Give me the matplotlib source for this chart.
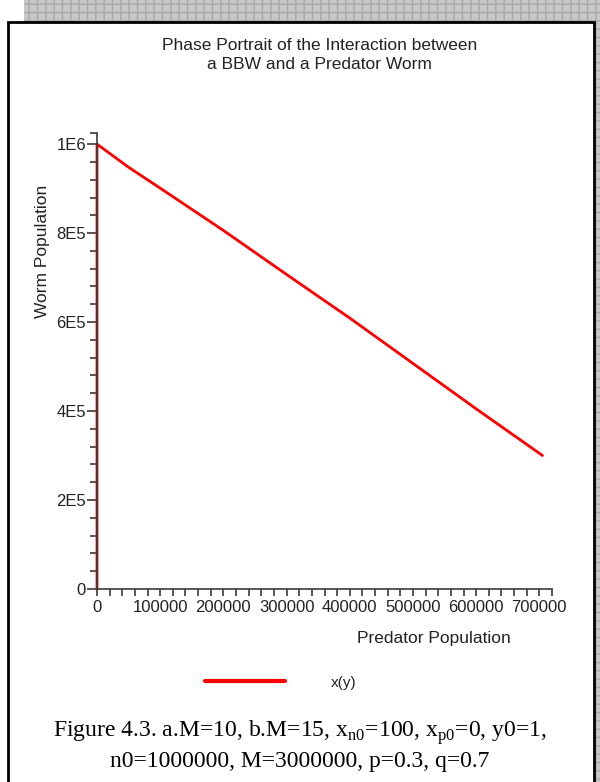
import matplotlib.pyplot as plt
from matplotlib.patches import Rectangle
from matplotlib.ticker import MultipleLocator, FixedLocator

plt.rcParams['font.family'] = ['Liberation Sans', 'DejaVu Sans']
plt.rcParams['mathtext.fontset'] = 'custom'
plt.rcParams['mathtext.rm'] = 'Liberation Serif'

# predator population (x axis) vs worm population (y axis)
predator = [0, 0, 50000, 100000, 200000, 300000, 400000, 500000, 600000, 705000]
worm = [0, 1000000, 948000, 901000, 806000, 707000, 609000, 507000, 405000, 300000]

x_major = [0, 100000, 200000, 300000, 400000, 500000, 600000, 700000]
y_major = [0, 200000, 400000, 600000, 800000, 1000000]
y_labels = ['0', '2E5', '4E5', '6E5', '8E5', '1E6']

fig = plt.figure(figsize=(6, 7.82), dpi=100)
fig.patch.set_facecolor('white')

# checkered backdrop (top and right strips) and white sheet with a black frame
fig.add_artist(Rectangle((0.04, 0), 0.96, 1, transform=fig.transFigure, facecolor='#c8c8c8',
                         edgecolor='#a8a8a8', hatch='++', lw=0, zorder=-3))
fig.add_artist(Rectangle((0, -0.02), 0.02, 1.0, transform=fig.transFigure,
                         facecolor='white', lw=0, zorder=-2.5))
fig.add_artist(Rectangle((0.0127, -0.02), 0.9773, 0.9919, transform=fig.transFigure,
                         facecolor='white', edgecolor='black', lw=2, zorder=-2))

ax = fig.add_axes([0.1617, 0.2468, 0.7583, 0.5831])
ax.set_facecolor('none')
ax.plot(predator, worm, color='red', lw=2, clip_on=False, label='x(y)', solid_capstyle='round')

ax.set_xlim(0, 720000)
ax.set_ylim(0, 1025000)
for s in ['top', 'right']:
    ax.spines[s].set_visible(False)
for s in ['left', 'bottom']:
    ax.spines[s].set_color('#3a3a3a')
    ax.spines[s].set_linewidth(1.2)

ax.set_xticks(x_major, [str(v) for v in x_major])
ax.xaxis.set_minor_locator(MultipleLocator(20000))
ax.set_yticks(y_major, y_labels)
ax.yaxis.set_minor_locator(FixedLocator([i * 40000 for i in range(26)] + [1025000]))
ax.tick_params(axis='both', which='both', color='#3a3a3a', width=1.2, labelsize=12,
               labelcolor='#222222')
ax.tick_params(axis='x', which='major', length=5, pad=3)
ax.tick_params(axis='x', which='minor', length=5)
ax.tick_params(axis='y', which='major', length=7, pad=1)
ax.tick_params(axis='y', which='minor', length=5)

ax.set_xlabel('Predator Population', fontsize=12.5, color='#222222')
ax.set_ylabel('Worm Population', fontsize=12.5, color='#222222')
ax.yaxis.set_label_coords(-0.104, 0.74)
ax.xaxis.set_label_coords(0.74, -0.093)

fig.text(0.532, 0.9297, 'Phase Portrait of the Interaction between\na BBW and a Predator Worm',
         ha='center', va='center', fontsize=12.5, color='#222222', linespacing=1.38)

ax.legend(loc='center', bbox_to_anchor=(0.468, 0.127), bbox_transform=fig.transFigure,
          frameon=False, fontsize=11, handlelength=5.2, handletextpad=3.0,
          labelcolor='#222222')
ax.get_legend().get_lines()[0].set_linewidth(3)

fig.text(0.5, 0.047,
         r'Figure 4.3. a.M=10, b.M=15, x$_\mathrm{n0}$=100, x$_\mathrm{p0}$=0, y0=1,' + '\n'
         + 'n0=1000000, M=3000000, p=0.3, q=0.7',
         ha='center', va='center', fontsize=17, family='Liberation Serif', linespacing=1.2)

fig.savefig('out.png', dpi=100)
